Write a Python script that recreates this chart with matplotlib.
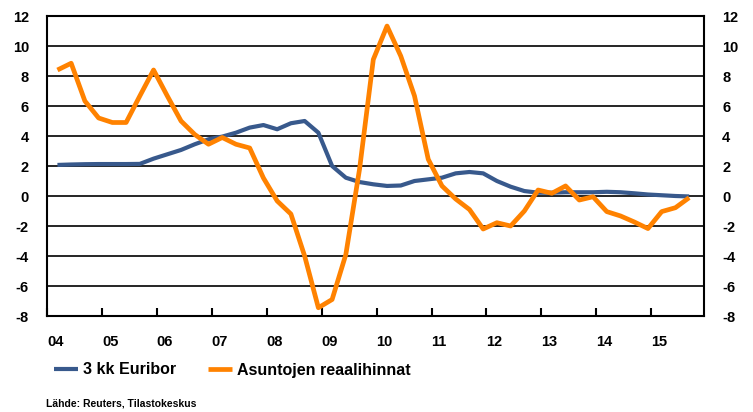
import matplotlib
matplotlib.use("Agg")
import matplotlib.pyplot as plt
import numpy as np

plt.rcParams['font.family'] = ['Liberation Sans', 'DejaVu Sans']
plt.rcParams['axes.unicode_minus'] = False

# Quarterly observations, 2004Q1 .. 2015Q3
start_year = 2004.19
euribor = [2.07, 2.10, 2.12, 2.13, 2.13, 2.13, 2.14, 2.49, 2.78, 3.07, 3.45, 3.78,
           3.96, 4.22, 4.56, 4.73, 4.45, 4.85, 5.00, 4.22, 2.00, 1.22, 0.93, 0.78,
           0.67, 0.70, 1.00, 1.11, 1.22, 1.51, 1.60, 1.51, 1.00, 0.62, 0.33, 0.22,
           0.22, 0.25, 0.25, 0.25, 0.28, 0.25, 0.18, 0.10, 0.05, 0.00, -0.03]
house_prices = [8.4, 8.85, 6.33, 5.2, 4.9, 4.9, 6.67, 8.4, 6.67, 5.0, 4.1, 3.45,
                3.9, 3.45, 3.2, 1.2, -0.33, -1.2, -4.0, -7.45, -6.9, -3.9, 1.8, 9.1,
                11.33, 9.33, 6.67, 2.45, 0.67, -0.2, -0.9, -2.2, -1.78, -2.0, -1.0, 0.4,
                0.18, 0.67, -0.27, -0.05, -1.04, -1.33, -1.73, -2.17, -1.04, -0.78, -0.11]
year_ticks = list(range(2004, 2016))
year_labels = ["04", "05", "06", "07", "08", "09", "10", "11", "12", "13", "14", "15"]
y_ticks = list(range(-8, 13, 2))
series_names = ["3 kk Euribor", "Asuntojen reaalihinnat"]
source_text = "Lähde: Reuters, Tilastokeskus"

x = start_year + 0.25 * np.arange(len(euribor))

fig = plt.figure(figsize=(7.53, 4.12), dpi=100)
ax = fig.add_axes([47/753, 1-316/412, (704-47)/753, 300/412])

for yv in y_ticks:
    ax.axhline(yv, color='black', lw=1.2, zorder=1)

l1, = ax.plot(x, euribor, color='#38598C', lw=3.0, solid_capstyle='butt', zorder=3,
              label=series_names[0])
l2, = ax.plot(x, house_prices, color='#FF8200', lw=3.4, solid_capstyle='butt', zorder=4,
              label=series_names[1])

ax.set_xlim(2004, 2015.96)
ax.set_ylim(-8, 12)
ax.set_yticks(y_ticks)
ax.set_xticks(year_ticks)
ax.set_xticklabels(year_labels)
for lab in ax.get_xticklabels():
    lab.set_ha('left')
    lab.set_fontweight('bold')
ax.tick_params(axis='x', direction='in', length=6, width=1.5, pad=14,
               labelsize=10.5)
ax.tick_params(axis='y', length=0, pad=13, labelsize=10.5, labelright=True,
               right=False)
for tick in ax.yaxis.get_major_ticks():
    tick.label1.set_fontweight('bold')
    tick.label2.set_fontweight('bold')
    tick.label2.set_fontsize(10.5)

for sp in ax.spines.values():
    sp.set_linewidth(1.5)
    sp.set_color('black')

leg = fig.legend(handles=[l1, l2], loc='center left', bbox_to_anchor=(40/753, 1-370/412),
                 ncol=2, frameon=False, handlelength=1.5, handletextpad=0.3,
                 columnspacing=2.0, prop={'weight': 'bold', 'size': 11.5})

fig.text(46/753, 1-404/412, source_text, fontsize=7.5, fontweight='bold', va='center')

fig.savefig("out.png", dpi=100)
